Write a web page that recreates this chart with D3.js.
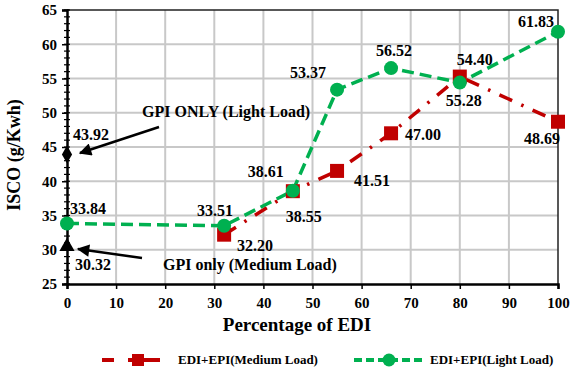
<!DOCTYPE html>
<html>
<head>
<meta charset="utf-8">
<script src="https://cdn.jsdelivr.net/npm/d3@7"></script>
<style>
  body { margin: 0; background: #fff; }
  text { font-family: "Liberation Serif", "Times New Roman", serif; font-weight: bold; fill: #000; }
</style>
</head>
<body>
<svg id="chart" width="571" height="369"></svg>
<script>
// chart data
var xTicks = [0, 10, 20, 30, 40, 50, 60, 70, 80, 90, 100];
var yTicks = [25, 30, 35, 40, 45, 50, 55, 60, 65];
var mediumX = [32, 46, 55, 66, 80, 100];
var mediumY = [32.20, 38.55, 41.51, 47.00, 55.28, 48.69];
var lightX = [0, 32, 46, 55, 66, 80, 100];
var lightY = [33.84, 33.51, 38.61, 53.37, 56.52, 54.40, 61.83];
var gpiLight = [0, 43.92];
var gpiMedium = [0, 30.32];

// value labels: text and offset from the point (label text as printed on the chart)
var labels = [
  {text: '43.92', x: 0, y: 43.92, dx: 6, dy: -14},
  {text: '30.32', x: 0, y: 30.32, dx: 8, dy: 22},
  {text: '33.84', x: 0, y: 33.84, dx: 3, dy: -9},
  {text: '33.51', x: 32, y: 33.51, dx: -27, dy: -10},
  {text: '32.20', x: 32, y: 32.20, dx: 13, dy: 16},
  {text: '38.61', x: 46, y: 38.61, dx: -45, dy: -14},
  {text: '38.55', x: 46, y: 38.55, dx: -7, dy: 31},
  {text: '41.51', x: 55, y: 41.51, dx: 17, dy: 15},
  {text: '53.37', x: 55, y: 53.37, dx: -47, dy: -12},
  {text: '56.52', x: 66, y: 56.52, dx: -15, dy: -12},
  {text: '47.00', x: 66, y: 47.00, dx: 14, dy: 7},
  {text: '54.40', x: 80, y: 55.28, dx: -3, dy: -12},
  {text: '55.28', x: 80, y: 54.40, dx: -14, dy: 23},
  {text: '61.83', x: 100, y: 61.83, dx: -40, dy: -5},
  {text: '48.69', x: 100, y: 48.69, dx: -34, dy: 22}
];

var svg = d3.select('#chart');
var margin = {top: 10, right: 12, bottom: 85, left: 67};

var x = d3.scaleLinear().domain([0, 100]).range([0, 491]);
var y = d3.scaleLinear().domain([25, 65]).range([274, 0]);

var g = svg.append('g').attr('transform', 'translate(' + margin.left + ',' + margin.top + ')');

// grid
g.selectAll('.hgrid').data(yTicks.slice(1, -1)).enter().append('line')
    .attr('x1', 0).attr('x2', x(100))
    .attr('y1', function (d) { return y(d); }).attr('y2', function (d) { return y(d); })
    .attr('stroke', '#c8c8c8').attr('stroke-width', 2);
g.selectAll('.vgrid').data(xTicks.slice(1, -1)).enter().append('line')
    .attr('y1', 0).attr('y2', y(25))
    .attr('x1', function (d) { return x(d); }).attr('x2', function (d) { return x(d); })
    .attr('stroke', '#c8c8c8').attr('stroke-width', 2);

// frame top & right
g.append('path').attr('d', 'M0,0H' + x(100) + 'V' + y(25))
    .attr('fill', 'none').attr('stroke', '#222').attr('stroke-width', 1.5);

// axes
var xAxis = g.append('g').attr('transform', 'translate(0,' + y(25) + ')')
    .call(d3.axisBottom(x).tickValues(xTicks).tickSize(5).tickPadding(8));
var yAxis = g.append('g')
    .call(d3.axisLeft(y).tickValues(yTicks).tickSize(5).tickPadding(5));
// minor ticks on y
g.append('g').selectAll('line').data(d3.range(25, 65.5, 1)).enter().append('line')
    .attr('x1', -3).attr('x2', 3)
    .attr('y1', function (d) { return y(d); }).attr('y2', function (d) { return y(d); })
    .attr('stroke', '#000').attr('stroke-width', 1.2);
[xAxis, yAxis].forEach(function (a) {
  a.select('.domain').attr('stroke', '#000').attr('stroke-width', 2.5);
  a.selectAll('.tick line').attr('stroke', '#000').attr('stroke-width', 1.5);
  a.selectAll('.tick text').style('font-size', '15px').style('font-family', '"Liberation Serif", serif').style('font-weight', 'bold').attr('fill', '#000');
});

// series lines
var line = d3.line().x(function (d) { return x(d[0]); }).y(function (d) { return y(d[1]); });
var medium = d3.zip(mediumX, mediumY);
var light = d3.zip(lightX, lightY);

g.append('path').datum(medium).attr('d', line)
    .attr('fill', 'none').attr('stroke', '#c00000').attr('stroke-width', 3.5)
    .attr('stroke-dasharray', '14,10,2.5,10');
g.append('path').datum(light).attr('d', line)
    .attr('fill', 'none').attr('stroke', '#00b050').attr('stroke-width', 3.5)
    .attr('stroke-dasharray', '12,6');

g.selectAll('.sq').data(medium).enter().append('rect')
    .attr('x', function (d) { return x(d[0]) - 7; })
    .attr('y', function (d) { return y(d[1]) - 7; })
    .attr('width', 14).attr('height', 14).attr('fill', '#c00000');
g.selectAll('.dot').data(light).enter().append('circle')
    .attr('cx', function (d) { return x(d[0]); })
    .attr('cy', function (d) { return y(d[1]); })
    .attr('r', 7).attr('fill', '#00b050');

// GPI only markers
g.append('path').attr('d', d3.symbol(d3.symbolDiamond, 90))
    .attr('transform', 'translate(' + x(gpiLight[0]) + ',' + y(gpiLight[1]) + ')').attr('fill', '#000');
g.append('path').attr('d', d3.symbol(d3.symbolTriangle, 100))
    .attr('transform', 'translate(' + x(gpiMedium[0]) + ',' + (y(gpiMedium[1]) - 1) + ')').attr('fill', '#000');

// arrows
svg.append('defs').append('marker').attr('id', 'arr')
    .attr('viewBox', '0 0 10 10').attr('refX', 9).attr('refY', 5)
    .attr('markerWidth', 6).attr('markerHeight', 5).attr('orient', 'auto')
  .append('path').attr('d', 'M0,0L10,5L0,10z').attr('fill', '#000');
svg.append('line').attr('x1', 159).attr('y1', 127).attr('x2', 80).attr('y2', 153)
    .attr('stroke', '#000').attr('stroke-width', 2.5).attr('marker-end', 'url(#arr)');
svg.append('line').attr('x1', 142).attr('y1', 258).attr('x2', 78).attr('y2', 249)
    .attr('stroke', '#000').attr('stroke-width', 2.5).attr('marker-end', 'url(#arr)');
svg.append('text').attr('x', 142).attr('y', 117).style('font-size', '16px').text('GPI ONLY (Light Load)');
svg.append('text').attr('x', 163).attr('y', 270).style('font-size', '16px').text('GPI only (Medium Load)');

// value labels
g.selectAll('.lbl').data(labels).enter().append('text')
    .attr('x', function (d) { return x(d.x) + d.dx; })
    .attr('y', function (d) { return y(d.y) + d.dy; })
    .style('font-size', '16px')
    .text(function (d) { return d.text; });

// axis titles
svg.append('text').attr('transform', 'translate(20,155) rotate(-90)')
    .attr('text-anchor', 'middle').style('font-size', '18px').text('ISCO (g/Kwh)');
svg.append('text').attr('x', 297).attr('y', 331)
    .attr('text-anchor', 'middle').style('font-size', '19px').text('Percentage of EDI');

// legend
var leg = svg.append('g');
leg.append('path').attr('d', 'M102,360H160').attr('stroke', '#c00000').attr('stroke-width', 4)
    .attr('stroke-dasharray', '12,17,6,17');
leg.append('line').attr('x1', 128).attr('x2', 160).attr('y1', 360).attr('y2', 360)
    .attr('stroke', '#c00000').attr('stroke-width', 4).attr('stroke-dasharray', '4,3,20');
leg.append('rect').attr('x', 132).attr('y', 354).attr('width', 12).attr('height', 12).attr('fill', '#c00000');
leg.append('text').attr('x', 178).attr('y', 364).style('font-size', '13px').text('EDI+EPI(Medium Load)');
leg.append('line').attr('x1', 354).attr('x2', 424).attr('y1', 360).attr('y2', 360)
    .attr('stroke', '#00b050').attr('stroke-width', 4).attr('stroke-dasharray', '8,4');
leg.append('circle').attr('cx', 389).attr('cy', 360).attr('r', 6.5).attr('fill', '#00b050');
leg.append('text').attr('x', 430).attr('y', 364).style('font-size', '13px').text('EDI+EPI(Light Load)');
</script>
</body>
</html>
